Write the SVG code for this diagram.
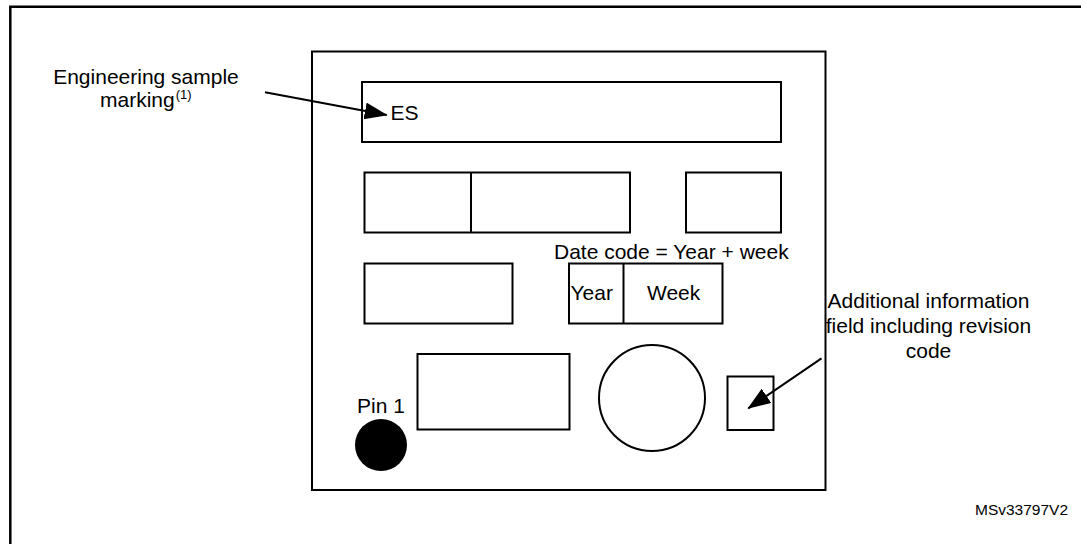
<svg xmlns="http://www.w3.org/2000/svg" width="1081" height="544" viewBox="0 0 1081 544">
<style>
.s{fill:none;stroke:#000;stroke-width:2}
.t{font-family:"Liberation Sans",Arial,sans-serif;font-size:21px;fill:#000}
.c{text-anchor:middle}
.cn{stroke:#000;stroke-width:2;fill:none}
</style>
<defs>
<marker id="ah" markerUnits="userSpaceOnUse" markerWidth="24" markerHeight="18" refX="22" refY="8.5" orient="auto">
<path d="M0,0 L23,8.5 L0,17 z" fill="#000"/>
</marker>
</defs>
<rect width="1081" height="544" fill="#fff"/>
<polyline points="10.3,544 10.3,6.8 1081,6.8" fill="none" stroke="#000" stroke-width="2.5"/>
<g id="package">
<rect class="s" x="312" y="51.5" width="513.5" height="438.5"/>
</g>
<g id="es-field">
<rect class="s" x="362" y="82" width="419" height="60"/>
<text class="t" x="390.5" y="119.5">ES</text>
</g>
<g id="row2-left">
<rect class="s" x="364.5" y="172.5" width="265.5" height="60"/>
<line class="s" x1="471" y1="172.5" x2="471" y2="232.5"/>
</g>
<g id="row2-right">
<rect class="s" x="686" y="172.5" width="95" height="60"/>
</g>
<g id="row3-left">
<rect class="s" x="364.5" y="263.5" width="148" height="60"/>
</g>
<g id="date-code">
<text class="t" x="554" y="258.5">Date code = Year + week</text>
<rect class="s" x="569" y="263.5" width="153.5" height="60"/>
<line class="s" x1="623.5" y1="263.5" x2="623.5" y2="323.5"/>
<text class="t" x="570.5" y="300">Year</text>
<text class="t" x="647" y="300">Week</text>
</g>
<g id="row4-box">
<rect class="s" x="417.5" y="354" width="152" height="75.5"/>
</g>
<g id="circle-field">
<circle class="s" cx="652" cy="398" r="53"/>
</g>
<g id="revision-field">
<rect class="s" x="727.5" y="376.5" width="46" height="53.5"/>
</g>
<g id="pin1">
<text class="t" x="357" y="412.5">Pin 1</text>
<circle cx="381" cy="445" r="26" fill="#000"/>
</g>
<g id="label-es">
<text class="t c" x="146" y="83.5">Engineering sample</text>
<text class="t" x="100" y="106.5">marking<tspan font-size="13" dx="1" dy="-8">(1)</tspan></text>
</g>
<g id="label-additional">
<text class="t c" x="928.5" y="307.5">Additional information</text>
<text class="t c" x="928.5" y="332.5">field including revision</text>
<text class="t c" x="928.5" y="358">code</text>
</g>
<g id="connectors">
<line class="cn" x1="265" y1="92.3" x2="386.7" y2="115" marker-end="url(#ah)"/>
<line class="cn" x1="821.5" y1="358.3" x2="748.3" y2="408.3" marker-end="url(#ah)"/>
</g>
<text class="t" x="975" y="515" style="font-size:15.5px">MSv33797V2</text>
</svg>
